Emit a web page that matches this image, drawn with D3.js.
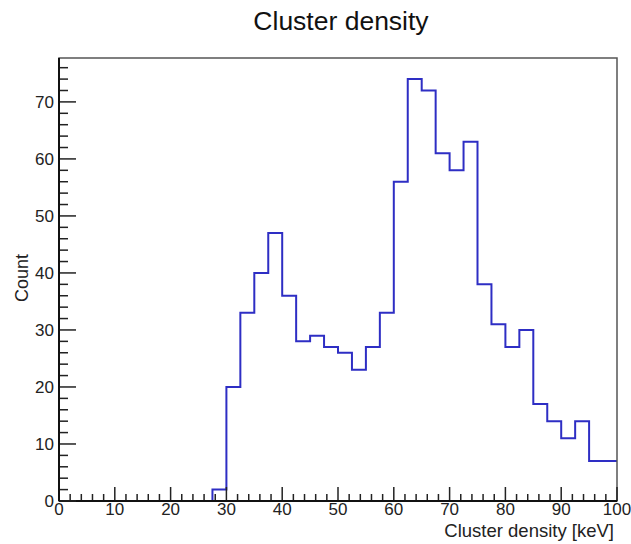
<!DOCTYPE html>
<html>
<head>
<meta charset="utf-8">
<script src="https://cdn.jsdelivr.net/npm/d3@7"></script>
<style>
  html, body { margin: 0; padding: 0; background: #fff; }
  svg { display: block; font-family: "Liberation Sans", Arial, Helvetica, sans-serif; }
</style>
</head>
<body>
<svg id="chart" width="631" height="544"></svg>
<script>
// ---- Data ----
const chartTitle = "Cluster density";
const xTitle = "Cluster density [keV]";
const yTitle = "Count";
// bin low edges (keV), width 2.5; bins below 27.5 are empty
const binLowEdges = [27.5, 30, 32.5, 35, 37.5, 40, 42.5, 45, 47.5, 50, 52.5, 55, 57.5, 60, 62.5,
                     65, 67.5, 70, 72.5, 75, 77.5, 80, 82.5, 85, 87.5, 90, 92.5, 95, 97.5];
const binWidth = 2.5;
const counts = [2, 20, 33, 40, 47, 36, 28, 29, 27, 26, 23, 27, 33, 56, 74,
                72, 61, 58, 63, 38, 31, 27, 30, 17, 14, 11, 14, 7, 7];
const xTickValues = [0, 10, 20, 30, 40, 50, 60, 70, 80, 90, 100];
const yTickValues = [0, 10, 20, 30, 40, 50, 60, 70];
const xDomain = [0, 100];
const yDomain = [0, 77.7];

// ---- Layout ----
const mLeft = 59, mRight = 617, mTop = 58, mBottom = 501;
const svg = d3.select("#chart");

const x = d3.scaleLinear().domain(xDomain).range([mLeft, mRight]);
const y = d3.scaleLinear().domain(yDomain).range([mBottom, mTop]);

// ---- Histogram outline ----
const pts = [[binLowEdges[0], 0]];
binLowEdges.forEach((lo, i) => {
  pts.push([lo, counts[i]]);
  pts.push([lo + binWidth, counts[i]]);
});
const line = d3.line().x(d => x(d[0])).y(d => y(d[1]));
svg.append("path")
  .attr("d", line(pts))
  .attr("fill", "none")
  .attr("stroke", "#2e2ec4")
  .attr("stroke-width", 2)
  .attr("stroke-linejoin", "miter");

// ---- Frame ----
svg.append("rect")
  .attr("x", mLeft).attr("y", mTop)
  .attr("width", mRight - mLeft).attr("height", mBottom - mTop)
  .attr("fill", "none").attr("stroke", "#555").attr("stroke-width", 1.5);

// ---- X axis ticks ----
const xMinor = d3.range(0, 100.001, 2).filter(v => v % 10 !== 0);
const gx = svg.append("g");
gx.selectAll("line.minor").data(xMinor).join("line")
  .attr("class", "minor")
  .attr("x1", d => x(d)).attr("x2", d => x(d))
  .attr("y1", mBottom).attr("y2", mBottom - 7)
  .attr("stroke", "#222").attr("stroke-width", 1.5);
gx.selectAll("line.major").data(xTickValues).join("line")
  .attr("class", "major")
  .attr("x1", d => x(d)).attr("x2", d => x(d))
  .attr("y1", mBottom).attr("y2", mBottom - 14)
  .attr("stroke", "#222").attr("stroke-width", 1.5);
gx.selectAll("text").data(xTickValues).join("text")
  .attr("x", d => x(d)).attr("y", 515)
  .attr("text-anchor", "middle")
  .attr("font-size", 17).attr("fill", "#222")
  .text(d => d);
svg.append("line").attr("x1", mLeft).attr("x2", mRight).attr("y1", mBottom).attr("y2", mBottom)
  .attr("stroke", "#111").attr("stroke-width", 2);

// ---- Y axis ticks ----
const yMinor = d3.range(0, 77.7, 2).filter(v => v % 10 !== 0);
const gy = svg.append("g");
gy.selectAll("line.minor").data(yMinor).join("line")
  .attr("class", "minor")
  .attr("x1", mLeft).attr("x2", mLeft + 9)
  .attr("y1", d => y(d)).attr("y2", d => y(d))
  .attr("stroke", "#222").attr("stroke-width", 1.5);
gy.selectAll("line.major").data(yTickValues).join("line")
  .attr("class", "major")
  .attr("x1", mLeft).attr("x2", mLeft + 17)
  .attr("y1", d => y(d)).attr("y2", d => y(d))
  .attr("stroke", "#222").attr("stroke-width", 1.5);
gy.selectAll("text").data(yTickValues).join("text")
  .attr("x", 54).attr("y", d => y(d))
  .attr("dy", "0.36em")
  .attr("text-anchor", "end")
  .attr("font-size", 17).attr("fill", "#222")
  .text(d => d);
svg.append("line").attr("x1", mLeft).attr("x2", mLeft).attr("y1", mTop).attr("y2", mBottom)
  .attr("stroke", "#111").attr("stroke-width", 2);

// ---- Titles ----
svg.append("text")
  .attr("x", 341).attr("y", 30)
  .attr("text-anchor", "middle")
  .attr("font-size", 26.5).attr("fill", "#111")
  .text(chartTitle);
svg.append("text")
  .attr("x", 614).attr("y", 537)
  .attr("text-anchor", "end")
  .attr("font-size", 18.5).attr("fill", "#222")
  .text(xTitle);
svg.append("text")
  .attr("transform", "translate(28,278) rotate(-90)")
  .attr("text-anchor", "middle")
  .attr("font-size", 18).attr("fill", "#222")
  .text(yTitle);
</script>
</body>
</html>
